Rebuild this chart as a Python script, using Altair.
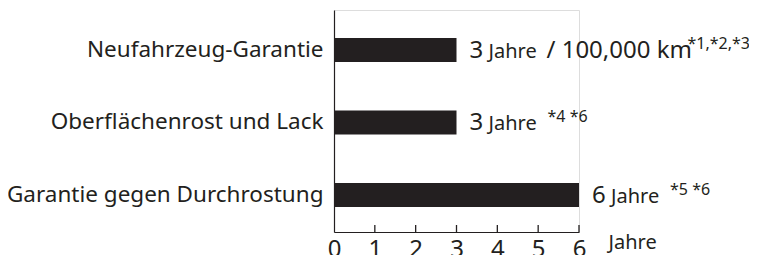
import altair as alt
import pandas as pd

categories = ["Neufahrzeug-Garantie", "Oberflächenrost und Lack", "Garantie gegen Durchrostung"]
years = [3, 3, 6]
year_labels = ["3", "3", "6"]
unit_labels = ["Jahre", "Jahre", "Jahre"]
extra_labels = ["/ 100,000 km", "", ""]
footnote_labels = ["*1,*2,*3", "*4 *6", "*5 *6"]
axis_ticks = [0, 1, 2, 3, 4, 5, 6]
axis_title = "Jahre"

FONT = "Noto Sans"
INK = "#231f20"

df = pd.DataFrame({
    "category": categories,
    "years": years,
    "num": year_labels,
    "unit": unit_labels,
    "extra": extra_labels,
    "foot": footnote_labels,
})
ticks_df = pd.DataFrame({"t": axis_ticks[1:]})

x_scale = alt.Scale(domain=[0, 6], nice=False, zero=True)
y_scale = alt.Scale(domain=categories, paddingInner=0, paddingOuter=0.031, align=0.83)

x_enc = alt.X("years:Q", scale=x_scale, axis=alt.Axis(
    values=axis_ticks, ticks=False, grid=False, domainColor=INK, domainWidth=1.2,
    labelFont=FONT, labelFontSize=24, labelColor=INK, labelPadding=5,
    title=axis_title, titleFont=FONT, titleFontSize=20, titleFontWeight="normal",
    titleColor=INK, titleX=274, titleY=16, titleAlign="left", titleBaseline="alphabetic",
    titleAnchor="start", labelFlush=False))
y_enc = alt.Y("category:N", scale=y_scale, sort=categories, axis=alt.Axis(
    title=None, ticks=False, grid=False, domainColor=INK, domainWidth=1.2,
    labelFont=FONT, labelFontSize=22.5, labelColor=INK, labelPadding=11,
    labelLimit=400, minExtent=326, maxExtent=326))

base = alt.Chart(df)

bars = base.mark_bar(size=24, color=INK).encode(x=x_enc, y=y_enc)

num_text = base.mark_text(align="left", baseline="alphabetic", dx=13, dy=8,
                          font=FONT, fontSize=24, color=INK).encode(
    x="years:Q", y=alt.Y("category:N", sort=categories), text="num:N")
unit_text = base.mark_text(align="left", baseline="alphabetic", dx=32, dy=8,
                           font=FONT, fontSize=20, color=INK).encode(
    x="years:Q", y=alt.Y("category:N", sort=categories), text="unit:N")
extra_text = base.transform_filter("datum.extra != ''").mark_text(
    align="left", baseline="alphabetic", dx=90, dy=8,
    font=FONT, fontSize=24, color=INK).encode(
    x="years:Q", y=alt.Y("category:N", sort=categories), text="extra:N")
foot_long = base.transform_filter("datum.extra != ''").mark_text(
    align="left", baseline="alphabetic", dx=231, dy=-1,
    font=FONT, fontSize=16, color=INK).encode(
    x="years:Q", y=alt.Y("category:N", sort=categories), text="foot:N")
foot_short = base.transform_filter("datum.extra == ''").mark_text(
    align="left", baseline="alphabetic", dx=91, dy=0,
    font=FONT, fontSize=16, color=INK).encode(
    x="years:Q", y=alt.Y("category:N", sort=categories), text="foot:N")

tick_rules = alt.Chart(ticks_df).mark_rule(color=INK, strokeWidth=1.3).encode(
    x=alt.X("t:Q", scale=x_scale), y=alt.value(215), y2=alt.value(222))

chart = alt.layer(bars, tick_rules, num_text, unit_text, extra_text, foot_long, foot_short).properties(
    width=245, height=222,
    autosize=alt.AutoSizeParams(type="none"),
    padding={"left": 326, "top": 2, "right": 170, "bottom": 24},
).configure_view(stroke=None).configure(background="white")

chart.save("out.html", embed_options={"renderer": "svg", "actions": False})
